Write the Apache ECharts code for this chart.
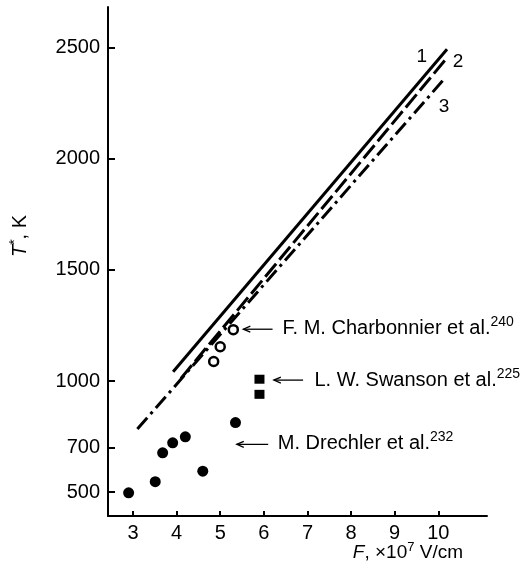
<!DOCTYPE html>
<html><head><meta charset="utf-8">
<script src="https://cdn.jsdelivr.net/npm/echarts@6/dist/echarts.min.js"></script>
<style>html,body{margin:0;padding:0;background:#fff}#c{width:532px;height:576px}</style>
</head><body><div id="c"></div>
<script>
// ---- data ----
const xTicks = [3, 4, 5, 6, 7, 8, 9, 10];
const yTicks = [500, 700, 1000, 1500, 2000, 2500];
const line1 = [[3.92, 1042], [10.2, 2493]];
const line2 = [[4.10, 1012], [10.16, 2445]];
const line3 = [[3.10, 784], [10.14, 2360]];
const drechsler = [[2.90, 497], [3.51, 547], [3.68, 677], [3.91, 722], [4.20, 749], [4.60, 594], [5.35, 813]];
const charbonnier = [[4.85, 1088], [5.00, 1154], [5.30, 1231]];
const swanson = [[5.90, 1008], [5.90, 940]];
const lineLabels = ['1', '2', '3'];
const annNames = ['F. M. Charbonnier et al.', 'L. W. Swanson et al.', 'M. Drechler et al.'];
const annRefs = ['240', '225', '232'];

// ---- layout (data-space anchors for labels/arrows) ----
const lineLabelPos = [[9.62, 2459], [10.45, 2437], [10.13, 2234]];
const annTip = [[5.53, 1233], [6.23, 1004], [5.38, 715]];
const annTail = [[6.20, 1233], [6.90, 1004], [6.10, 715]];
const annText = [[6.43, 1238], [7.16, 1004], [6.32, 720]];

const FONT = '"Liberation Sans", Arial, Helvetica, sans-serif';
const chart = echarts.init(document.getElementById('c'), null, {renderer: 'canvas'});

const lineSeries = (data, type) => ({
  type: 'line', data: data, showSymbol: false, silent: true, z: 2,
  lineStyle: {color: '#000', width: 3, type: type, cap: 'butt', opacity: 1}
});

chart.setOption({
  animation: false,
  backgroundColor: '#fff',
  grid: {left: 108, right: 45, top: 7, bottom: 60, containLabel: false},
  xAxis: {
    type: 'value', min: 2.427, max: 11.117,
    splitLine: {show: false},
    axisLine: {lineStyle: {color: '#000', width: 2}},
    axisTick: {inside: true, length: 5, lineStyle: {color: '#000', width: 2}, customValues: xTicks},
    axisLabel: {customValues: xTicks, color: '#000', fontFamily: FONT, fontSize: 20, margin: 7,
      formatter: v => String(v)}
  },
  yAxis: {
    type: 'value', min: 392.5, max: 2683,
    splitLine: {show: false},
    axisLine: {show: true, lineStyle: {color: '#000', width: 2}},
    axisTick: {show: true, inside: true, length: 7, lineStyle: {color: '#000', width: 2}, customValues: yTicks},
    axisLabel: {customValues: yTicks, color: '#000', fontFamily: FONT, fontSize: 20, margin: 8,
      formatter: v => String(v)}
  },
  series: [
    lineSeries(line1, 'solid'),
    lineSeries(line2, [17, 5]),
    lineSeries(line3, [15, 5, 3, 5]),
    {type: 'scatter', data: drechsler, symbol: 'circle', symbolSize: 11, z: 3,
     itemStyle: {color: '#000', opacity: 1}},
    {type: 'scatter', data: charbonnier, symbol: 'circle', symbolSize: 9, z: 3,
     itemStyle: {color: '#fff', borderColor: '#000', borderWidth: 2.5, opacity: 1}},
    {type: 'scatter', data: swanson, symbol: 'rect', symbolSize: [10, 9], z: 3,
     itemStyle: {color: '#000', opacity: 1}}
  ]
});

const px = p => chart.convertToPixel({gridIndex: 0}, p);
const graphics = [];
lineLabels.forEach((t, i) => {
  const p = px(lineLabelPos[i]);
  graphics.push({type: 'text', x: p[0], y: p[1], z: 10,
    style: {text: t, fill: '#000', font: '19px ' + FONT, align: 'center', verticalAlign: 'middle'}});
});
annNames.forEach((name, i) => {
  const a = px(annTip[i]), b = px(annTail[i]), t = px(annText[i]);
  graphics.push({type: 'line', z: 10, shape: {x1: b[0], y1: b[1], x2: a[0], y2: a[1]},
    style: {stroke: '#000', lineWidth: 1.3}});
  graphics.push({type: 'polyline', z: 10,
    shape: {points: [[a[0] + 7, a[1] - 3], [a[0], a[1]], [a[0] + 7, a[1] + 3]]},
    style: {stroke: '#000', lineWidth: 1.3, fill: null}});
  graphics.push({type: 'text', x: t[0], y: t[1], z: 10,
    style: {text: '{m|' + name + '}{s|' + annRefs[i] + '}', align: 'left', verticalAlign: 'middle',
      rich: {m: {fontSize: 20, fontFamily: FONT, fill: '#000', lineHeight: 26},
             s: {fontSize: 14, fontFamily: FONT, fill: '#000', lineHeight: 16, verticalAlign: 'top'}}}});
});
// axis names
graphics.push({type: 'text', x: 463, y: 553, z: 10,
  style: {text: '{i|F}{n|, \u00d710}{s|7}{n| V/cm}', align: 'right', verticalAlign: 'middle',
    rich: {i: {fontSize: 19, fontFamily: FONT, fontStyle: 'italic', fill: '#000', lineHeight: 24},
           n: {fontSize: 19, fontFamily: FONT, fill: '#000', lineHeight: 24},
           s: {fontSize: 13, fontFamily: FONT, fill: '#000', lineHeight: 14, verticalAlign: 'top'}}}});
graphics.push({type: 'text', x: 20, y: 236, rotation: Math.PI / 2, z: 10,
  style: {text: '{i|T}{s|*}{n|, K}', align: 'center', verticalAlign: 'middle',
    rich: {i: {fontSize: 20, fontFamily: FONT, fontStyle: 'italic', fill: '#000', lineHeight: 24},
           n: {fontSize: 20, fontFamily: FONT, fill: '#000', lineHeight: 24},
           s: {fontSize: 14, fontFamily: FONT, fill: '#000', lineHeight: 14, verticalAlign: 'top'}}}});
chart.setOption({graphic: graphics});
</script>
</body></html>
